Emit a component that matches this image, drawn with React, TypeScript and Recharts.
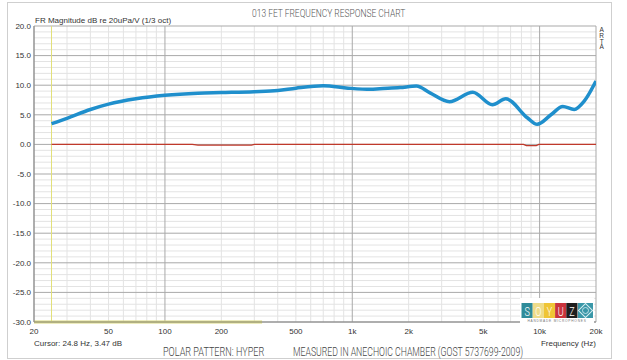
import React from "react";
import {
  LineChart,
  Line,
  XAxis,
  YAxis,
  CartesianGrid,
  ReferenceLine,
} from "recharts";

// blue: FR magnitude, 1/3 oct smoothed
const respFreqs = [24.8, 30, 40, 50, 70, 100, 150, 200, 300, 400, 500, 700, 950, 1250, 1400, 1800, 2200, 2600, 3300, 4400, 5600, 6600, 8600, 9700, 11500, 13300, 15300, 17300, 20000];
const respDb = [3.5, 4.4, 5.9, 6.8, 7.7, 8.3, 8.65, 8.75, 8.9, 9.1, 9.5, 9.9, 9.5, 9.3, 9.4, 9.6, 9.85, 8.7, 7.2, 8.8, 6.7, 7.7, 4.5, 3.4, 5.0, 6.4, 5.9, 7.3, 10.7];

// red: reference trace near 0 dB
const refFreqs = [24.8, 140, 150, 290, 300, 8200, 8500, 9600, 9900, 20000];
const refDb = [0, 0, -0.12, -0.12, 0, 0, -0.2, -0.2, 0, 0];

const xTicks = [20, 50, 100, 200, 500, 1000, 2000, 5000, 10000, 20000];
const yTicks = [-30, -25, -20, -15, -10, -5, 0, 5, 10, 15, 20];
const majorX = [20, 100, 1000, 10000, 20000];
const minorX = [30, 40, 50, 60, 70, 80, 90, 200, 300, 400, 500, 600, 700, 800, 900, 2000, 3000, 4000, 5000, 6000, 7000, 8000, 9000];
const minorY = Array.from({ length: 51 }, (_, i) => i - 30).filter((v) => v % 5 !== 0);

const respData = respFreqs.map((f, i) => ({ f, db: respDb[i] }));
const refData = refFreqs.map((f, i) => ({ f, db: refDb[i] }));

const fmtHz = (v: number) => (v >= 1000 ? `${v / 1000}k` : `${v}`);
const tickFont = { fontSize: 8, fill: "#333", fontFamily: "Liberation Sans, Arial, sans-serif" };
const thin = "Roboto, sans-serif";

const logoCells = [
  { ch: "S", bg: "#2f8c9a" },
  { ch: "O", bg: "#eedc8a" },
  { ch: "Y", bg: "#efc535" },
  { ch: "U", bg: "#c9343d" },
  { ch: "Z", bg: "#1e1e1e" },
];

// condensed thin caption, squeezed horizontally
function Caption({ x, y, size, sx, fill, children }: { x: number; y: number; size: number; sx: number; fill: string; children: string }) {
  return (
    <text
      transform={`translate(${x},${y}) scale(${sx},1)`}
      fontFamily={thin}
      fontWeight={300}
      fontSize={size}
      fill={fill}
    >
      {children}
    </text>
  );
}

export default function App() {
  return (
    <div style={{ position: "absolute", left: 0, top: 0, width: 627, height: 360, background: "#fff" }}>
      <LineChart
        width={627}
        height={360}
        margin={{ top: 26, right: 31, left: 0, bottom: 0 }}
      >
        <XAxis
          dataKey="f"
          type="number"
          scale="log"
          domain={[20, 20000]}
          allowDataOverflow
          ticks={xTicks}
          tickFormatter={fmtHz}
          tick={tickFont}
          tickLine={false}
          tickSize={4}
          tickMargin={2}
          axisLine={{ stroke: "#888" }}
          height={38}
          interval={0}
        />
        <YAxis
          type="number"
          domain={[-30, 20]}
          ticks={yTicks}
          tickFormatter={(v: number) => v.toFixed(1)}
          tick={tickFont}
          tickLine={false}
          tickSize={2}
          tickMargin={1}
          axisLine={{ stroke: "#888" }}
          width={34}
          interval={0}
        />
        <CartesianGrid
          stroke="#e3e3e3"
          verticalValues={minorX}
          horizontalValues={minorY}
        />
        <CartesianGrid
          stroke="#a9a9a9"
          verticalValues={majorX}
          horizontalValues={yTicks}
        />
        <ReferenceLine x={24.8} stroke="#e2e07a" strokeWidth={1} />
        <ReferenceLine
          segment={[{ x: 20, y: -30 }, { x: 330, y: -30 }]}
          stroke="#d9d77a"
          strokeWidth={3}
        />
        <Line
          data={refData}
          dataKey="db"
          type="linear"
          stroke="#c0392b"
          strokeWidth={1.3}
          dot={false}
          isAnimationActive={false}
        />
        <Line
          data={respData}
          dataKey="db"
          type="monotone"
          stroke="#1f8fcc"
          strokeWidth={3.5}
          dot={false}
          isAnimationActive={false}
        />
      </LineChart>

      <svg
        width={627}
        height={360}
        style={{ position: "absolute", left: 0, top: 0, pointerEvents: "none" }}
      >
        <rect x={7.5} y={2.5} width={604} height={356} fill="none" stroke="#cfcfcf" />
        <text x={35} y={22.5} {...tickFont}>FR Magnitude dB re 20uPa/V (1/3 oct)</text>
        <Caption x={252} y={16.5} size={11} sx={0.77} fill="#555">013 FET FREQUENCY RESPONSE CHART</Caption>
        {["A", "R", "T", "A"].map((c, i) => (
          <text key={i} x={601.7} y={32.3 + i * 5.6} textAnchor="middle" fontSize={6.5} fill="#333" fontFamily="Liberation Sans, Arial, sans-serif">
            {c}
          </text>
        ))}
        <text x={34} y={346} {...tickFont}>Cursor: 24.8 Hz, 3.47 dB</text>
        <text x={596} y={346} textAnchor="end" {...tickFont}>Frequency (Hz)</text>
        <Caption x={163} y={356} size={13} sx={0.7} fill="#444">POLAR PATTERN: HYPER</Caption>
        <Caption x={293} y={356} size={13} sx={0.67} fill="#444">MEASURED IN ANECHOIC CHAMBER (GOST 5737699-2009)</Caption>

        {/* logo */}
        <rect x={520} y={298} width={74} height={25} fill="#fff" />
        {logoCells.map((c, i) => (
          <g key={c.ch}>
            <rect x={521.5 + i * 11.2} y={303} width={11.2} height={15} fill={c.bg} />
            <text
              transform={`translate(${527.1 + i * 11.2},316) scale(0.7,1)`}
              textAnchor="middle"
              fontFamily={thin}
              fontWeight={300}
              fontSize={13}
              fill="#fff"
            >
              {c.ch}
            </text>
          </g>
        ))}
        <rect x={578} y={303} width={15} height={15} fill="#3a97a8" />
        <rect x={580.5} y={305.5} width={10} height={10} fill="none" stroke="#d8eef2" strokeWidth={1} transform="rotate(45 585.5 310.5)" />
        <circle cx={585.5} cy={310.5} r={3} fill="none" stroke="#d8eef2" strokeWidth={0.8} />
        <text x={557} y={322} textAnchor="middle" fontSize={3.2} fill="#777" fontFamily="Liberation Sans, Arial, sans-serif" letterSpacing={0.8}>
          HANDMADE MICROPHONES
        </text>
      </svg>
    </div>
  );
}
